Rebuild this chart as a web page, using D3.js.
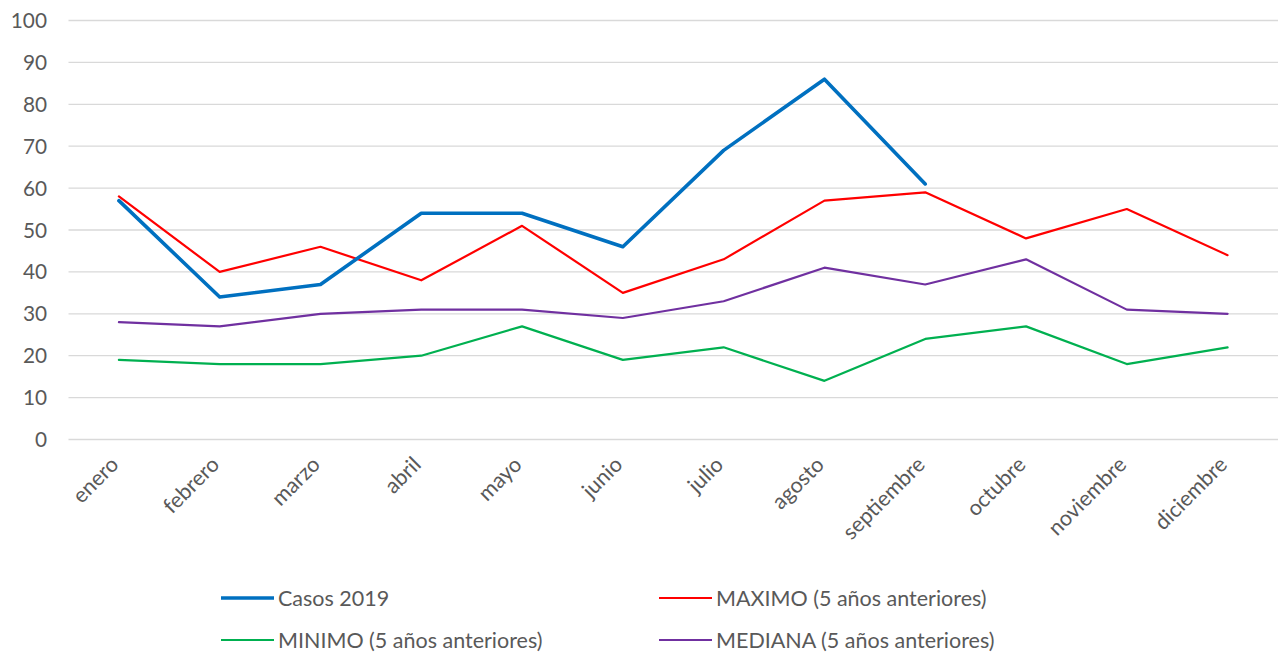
<!DOCTYPE html>
<html><head><meta charset="utf-8">
<script src="https://cdn.jsdelivr.net/npm/d3@7"></script>
<style>body{margin:0;background:#fff}svg{display:block}text{font-family:Lato,"Open Sans",sans-serif;fill:#595959}</style>
</head><body><svg id="c" width="1286" height="655"></svg>
<script>
const months = ["enero","febrero","marzo","abril","mayo","junio","julio","agosto","septiembre","octubre","noviembre","diciembre"];
const yTicks = [0,10,20,30,40,50,60,70,80,90,100];
const casos2019 = [57,34,37,54,54,46,69,86,61,null,null,null];
const maximo = [58,40,46,38,51,35,43,57,59,48,55,44];
const minimo = [19,18,18,20,27,19,22,14,24,27,18,22];
const mediana = [28,27,30,31,31,29,33,41,37,43,31,30];
const seriesNames = ["Casos 2019","MAXIMO (5 años anteriores)","MINIMO (5 años anteriores)","MEDIANA (5 años anteriores)"];

const series = [
  {name: seriesNames[0], values: casos2019, color: "#0070C0", w: 3.6},
  {name: seriesNames[1], values: maximo, color: "#FF0000", w: 2.2},
  {name: seriesNames[2], values: minimo, color: "#00B050", w: 2.2},
  {name: seriesNames[3], values: mediana, color: "#7030A0", w: 2.2}
];
const FS = "20.8px";

const svg = d3.select("#c");
const x = d3.scalePoint().domain(months).range([68.5, 1278]).padding(0.5);
const y = d3.scaleLinear().domain([0,100]).range([439.5, 20.5]);

// grid
svg.append("g").selectAll("line").data(yTicks).join("line")
  .attr("x1", 68.5).attr("x2", 1278)
  .attr("y1", d => y(d)).attr("y2", d => y(d))
  .attr("stroke", "#D9D9D9").attr("stroke-width", 1.3);

// y axis labels
const yAxis = d3.axisLeft(y).tickValues(yTicks).tickSize(0).tickPadding(0).tickFormat(d3.format("d"));
const gy = svg.append("g").attr("transform", "translate(47,0)").call(yAxis);
gy.select(".domain").remove();
gy.selectAll("text").style("font-size", FS).style("font-family", "Lato").attr("fill", "#595959").attr("dy", "0.34em");

// x axis labels
const xAxis = d3.axisBottom(x).tickSize(0).tickPadding(0);
const gx = svg.append("g").call(xAxis);
gx.select(".domain").remove();
gx.selectAll(".tick").attr("transform", d => `translate(${x(d)+1},466)`);
gx.selectAll("text").style("font-size", "21.5px").style("font-family", "Lato").attr("fill", "#595959")
  .attr("text-anchor", "end").attr("dy", "0").attr("y", 0).attr("x", 0).attr("transform", "rotate(-45)");

// lines
const line = d3.line().defined(d => d != null).x((d,i) => x(months[i])).y(d => y(d));
[1,2,3,0].forEach(k => {
  const s = series[k];
  svg.append("path").datum(s.values).attr("d", line)
    .attr("fill", "none").attr("stroke", s.color).attr("stroke-width", s.w)
    .attr("stroke-linejoin", "round").attr("stroke-linecap", "round");
});

// legend
const legPos = [[221, 598],[659, 598],[221, 640],[659, 640]];
series.forEach((s, i) => {
  const [lx, ly] = legPos[i];
  svg.append("line").attr("x1", lx).attr("x2", lx+53).attr("y1", ly).attr("y2", ly)
    .attr("stroke", s.color).attr("stroke-width", s.w);
  svg.append("text").attr("x", lx+57).attr("y", ly).attr("dy", "0.35em")
    .style("font-size", "21.5px").text(s.name);
});
</script></body></html>
